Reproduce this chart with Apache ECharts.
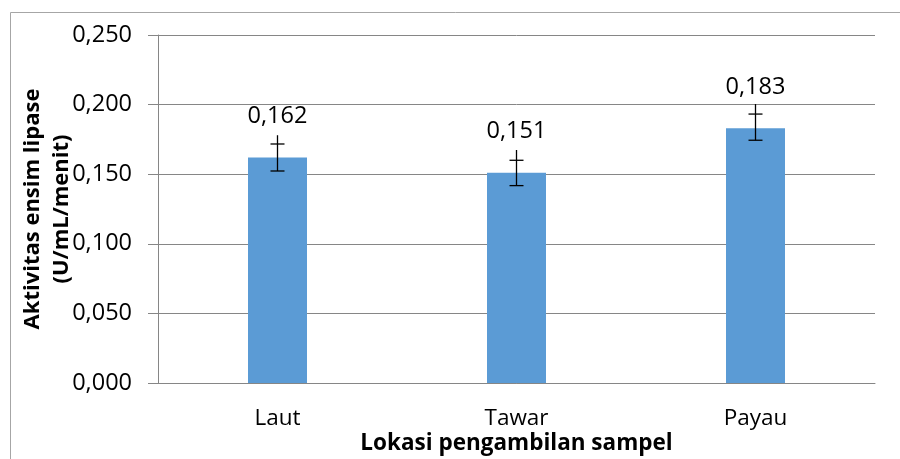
<!DOCTYPE html>
<html><head><meta charset="utf-8">
<script src="https://cdn.jsdelivr.net/npm/echarts@6/dist/echarts.min.js"></script>
<style>html,body{margin:0;padding:0;background:#fff}#c{width:900px;height:459px}</style>
</head><body><div id="c"></div>
<script>
const categories = ['Laut', 'Tawar', 'Payau'];
const values = [0.162, 0.151, 0.183];
const errLow = [0.0097, 0.0092, 0.0086];
const errHigh = [0.0097, 0.0090, 0.0102];
const whiskerTop = [0.0160, 0.0164, 0.0174];
const yTicks = [0, 0.05, 0.10, 0.15, 0.20, 0.25];
const FONT = 'Open Sans';
const fmt = v => v.toFixed(3).replace('.', ',');

const chart = echarts.init(document.getElementById('c'), null, {renderer: 'canvas'});
chart.setOption({
  animation: false,
  graphic: [{type: 'rect', shape: {x: 10.5, y: 12.5, width: 900, height: 460}, style: {fill: 'none', stroke: '#a6a6a6', lineWidth: 1}, silent: true}],
  grid: {left: 158, right: 25, top: 35, bottom: 76, containLabel: false, outerBoundsMode: 'none'},
  xAxis: {
    type: 'category', data: categories,
    name: 'Lokasi pengambilan sampel', nameLocation: 'middle', nameGap: 49, nameMoveOverlap: false,
    nameTextStyle: {fontFamily: FONT, fontWeight: 'bold', fontSize: 22.5, color: '#000'},
    axisLine: {lineStyle: {color: '#868686'}},
    axisTick: {show: false},
    axisLabel: {fontFamily: FONT, fontSize: 22.5, color: '#000', margin: 24}
  },
  yAxis: {
    type: 'value', min: 0, max: 0.25, interval: 0.05,
    name: 'Aktivitas ensim lipase\n(U/mL/menit)', nameLocation: 'middle', nameGap: 82, nameMoveOverlap: false,
    nameTextStyle: {fontFamily: FONT, fontWeight: 'bold', fontSize: 22, color: '#000', lineHeight: 29},
    axisLine: {show: true, lineStyle: {color: '#868686'}},
    axisTick: {show: true, length: 10, lineStyle: {color: '#868686'}},
    axisLabel: {fontFamily: FONT, fontSize: 23.5, color: '#000', margin: 26, formatter: v => fmt(v), customValues: yTicks},
    splitLine: {lineStyle: {color: '#868686'}}
  },
  series: [
    {
      type: 'bar', data: values, barWidth: 59,
      itemStyle: {color: '#5b9bd5'},
      label: {show: true, position: 'top', distance: 29, fontFamily: FONT, fontSize: 23.5, color: '#000', formatter: p => fmt(p.value)}
    },
    {
      type: 'custom', z: 10,
      data: values.map((v, i) => [i, v - errLow[i], v + errHigh[i], v + whiskerTop[i]]),
      renderItem: (params, api) => {
        const x = api.coord([api.value(0), 0])[0];
        const lo = api.coord([api.value(0), api.value(1)])[1];
        const hi = api.coord([api.value(0), api.value(2)])[1];
        const top = api.coord([api.value(0), api.value(3)])[1];
        const half = 7;
        const st = {stroke: '#000', lineWidth: 1.3};
        return {type: 'group', children: [
          {type: 'line', shape: {x1: x, y1: top, x2: x, y2: lo}, style: st},
          {type: 'line', shape: {x1: x - half, y1: lo, x2: x + half, y2: lo}, style: st},
          {type: 'line', shape: {x1: x - half, y1: hi, x2: x + half, y2: hi}, style: st}
        ]};
      }
    }
  ]
});
</script></body></html>
